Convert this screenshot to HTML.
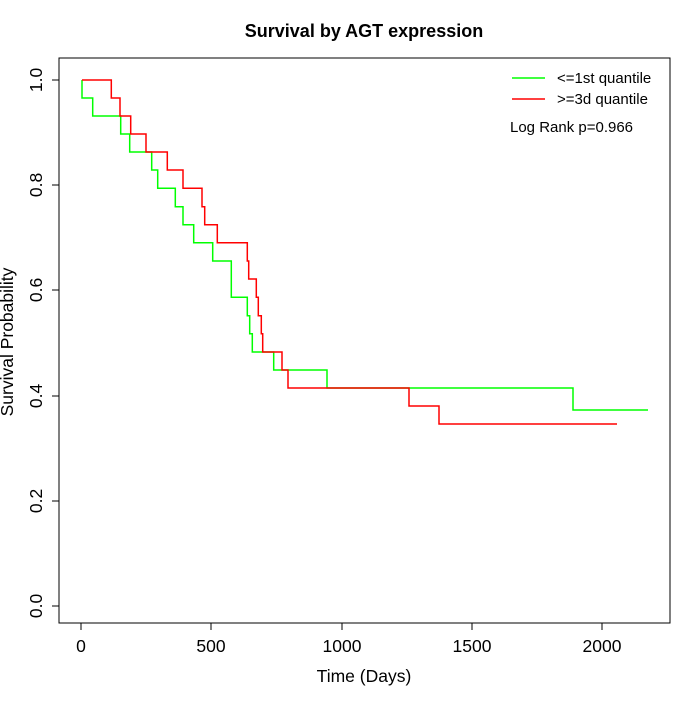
<!DOCTYPE html><html><head><style>body{margin:0;background:#fff}svg{font-family:"Liberation Sans",sans-serif}</style></head><body>
<svg width="700" height="700" viewBox="0 0 700 700">
<rect x="59" y="58" width="611" height="565" fill="none" stroke="#000"/>
<text x="364" y="37" font-size="18" font-weight="bold" text-anchor="middle">Survival by AGT expression</text>
<g stroke="#000" fill="none">
<path d="M81 623V630M211 623V630M342 623V630M472 623V630M602 623V630M81 623H602"/>
<path d="M59 80H52M59 185H52M59 290H52M59 396H52M59 501H52M59 606H52M59 80V606"/>
</g>
<g font-size="17.5" text-anchor="middle">
<text x="81" y="652">0</text><text x="211" y="652">500</text><text x="342" y="652">1000</text><text x="472" y="652">1500</text><text x="602" y="652">2000</text>
<text x="364" y="682">Time (Days)</text>
<g transform="translate(42,0)">
<text transform="translate(0,80) rotate(-90)">1.0</text>
<text transform="translate(0,185) rotate(-90)">0.8</text>
<text transform="translate(0,290) rotate(-90)">0.6</text>
<text transform="translate(0,396) rotate(-90)">0.4</text>
<text transform="translate(0,501) rotate(-90)">0.2</text>
<text transform="translate(0,606) rotate(-90)">0.0</text>
</g>
<text transform="translate(13,342) rotate(-90)">Survival Probability</text>
</g>
<path fill="none" stroke="#00ff00" stroke-width="1.5" d="M82 80V98H92.7V116H120.7V134H129.7V152H151.7V170H157.7V188.3H175.3V206.7H183V224.7H193.7V242.7H212.7V261H231.3V297.3H247.3V315.7H249.7V333.7H252.3V352H273.7V370H327V388H573V410H648"/>
<path fill="none" stroke="#ff0000" stroke-width="1.5" d="M82 80H111.3V98H120V116H130.7V134H146V152H167.3V170H183V188.3H202V206.7H204.7V224.7H217.3V242.7H247.3V261H248.7V279H256.3V297.3H258.3V315.7H261.3V333.7H262.7V352H282V370H288V388H409V406H439V424H617"/>
<path stroke="#00ff00" stroke-width="1.5" d="M512 78H545"/>
<path stroke="#ff0000" stroke-width="1.5" d="M512 99H545"/>
<g font-size="15"><text x="557" y="83">&lt;=1st quantile</text><text x="557" y="104">&gt;=3d quantile</text><text x="510" y="132">Log Rank p=0.966</text></g>
</svg></body></html>
